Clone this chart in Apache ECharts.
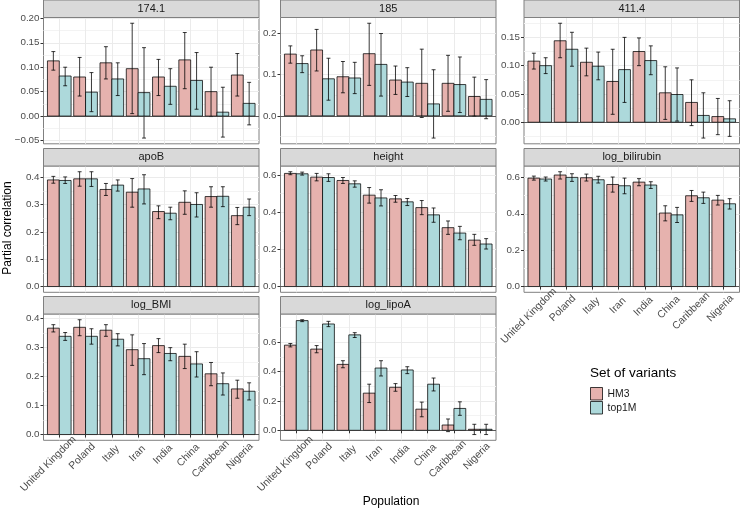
<!DOCTYPE html>
<html><head><meta charset="utf-8">
<script src="https://cdn.jsdelivr.net/npm/echarts@6/dist/echarts.min.js"></script>
<style>html,body{margin:0;padding:0;background:#fff}#c{width:740px;height:510px}</style>
</head><body><div id="c"></div>
<script>
// ---------------- DATA ----------------
const populations = ['United Kingdom','Poland','Italy','Iran','India','China','Caribbean','Nigeria'];
const panelNames = ['174.1','185','411.4','apoB','height','log_bilirubin','log_BMI','log_lipoA'];
const groups = ['HM3','top1M'];
// each entry: [estimate, lower, upper] per population
const p174_HM3   = [[0.113,0.094,0.132],[0.080,0.041,0.120],[0.109,0.076,0.142],[0.097,0.005,0.190],[0.080,0.042,0.116],[0.115,0.056,0.171],[0.050,-0.001,0.100],[0.084,0.041,0.128]];
const p174_top1M = [[0.082,0.062,0.100],[0.049,0.009,0.089],[0.076,0.042,0.109],[0.048,-0.045,0.140],[0.061,0.024,0.097],[0.073,0.014,0.130],[0.008,-0.043,0.059],[0.026,-0.018,0.069]];
const p185_HM3   = [[0.150,0.128,0.170],[0.160,0.109,0.210],[0.095,0.056,0.132],[0.151,0.074,0.225],[0.087,0.052,0.121],[0.079,-0.004,0.162],[0.079,0.011,0.147],[0.047,-0.001,0.094]];
const p185_top1M = [[0.127,0.105,0.146],[0.090,0.038,0.140],[0.092,0.054,0.130],[0.125,0.048,0.200],[0.082,0.047,0.117],[0.029,-0.054,0.112],[0.076,0.008,0.143],[0.040,-0.007,0.088]];
const p411_HM3   = [[0.108,0.094,0.122],[0.144,0.114,0.175],[0.106,0.082,0.131],[0.072,0.014,0.129],[0.125,0.100,0.149],[0.052,0.005,0.098],[0.035,-0.006,0.075],[0.010,-0.022,0.042]];
const p411_top1M = [[0.100,0.086,0.114],[0.129,0.099,0.159],[0.099,0.075,0.124],[0.093,0.035,0.150],[0.109,0.084,0.135],[0.049,0.002,0.096],[0.012,-0.028,0.052],[0.006,-0.025,0.038]];
const apoB_HM3   = [[0.391,0.379,0.404],[0.395,0.368,0.421],[0.356,0.334,0.378],[0.346,0.291,0.396],[0.275,0.249,0.296],[0.309,0.265,0.351],[0.330,0.291,0.366],[0.260,0.227,0.290]];
const apoB_top1M = [[0.389,0.378,0.402],[0.395,0.367,0.421],[0.372,0.350,0.391],[0.358,0.303,0.410],[0.269,0.245,0.291],[0.301,0.255,0.344],[0.331,0.293,0.366],[0.291,0.260,0.321]];
const height_HM3   = [[0.609,0.602,0.618],[0.589,0.569,0.609],[0.571,0.555,0.587],[0.492,0.449,0.533],[0.472,0.454,0.490],[0.425,0.387,0.463],[0.317,0.281,0.353],[0.250,0.222,0.281]];
const height_top1M = [[0.607,0.600,0.616],[0.587,0.566,0.607],[0.553,0.535,0.569],[0.477,0.434,0.521],[0.456,0.436,0.474],[0.386,0.346,0.423],[0.288,0.252,0.324],[0.229,0.202,0.258]];
const bili_HM3   = [[0.596,0.585,0.607],[0.613,0.591,0.631],[0.598,0.580,0.618],[0.561,0.519,0.602],[0.574,0.554,0.593],[0.404,0.361,0.444],[0.499,0.468,0.528],[0.475,0.448,0.501]];
const bili_top1M = [[0.591,0.580,0.602],[0.600,0.578,0.620],[0.587,0.569,0.606],[0.554,0.510,0.596],[0.558,0.539,0.576],[0.394,0.352,0.435],[0.488,0.457,0.519],[0.455,0.426,0.483]];
const bmi_HM3   = [[0.366,0.353,0.378],[0.369,0.340,0.395],[0.359,0.338,0.378],[0.292,0.238,0.343],[0.306,0.282,0.330],[0.269,0.227,0.311],[0.209,0.168,0.248],[0.157,0.125,0.187]];
const bmi_top1M = [[0.338,0.324,0.351],[0.338,0.311,0.364],[0.328,0.305,0.347],[0.261,0.206,0.313],[0.279,0.254,0.299],[0.243,0.198,0.285],[0.175,0.136,0.212],[0.149,0.119,0.178]];
const lipoA_HM3   = [[0.580,0.568,0.591],[0.553,0.528,0.577],[0.449,0.426,0.474],[0.253,0.189,0.314],[0.293,0.266,0.318],[0.144,0.092,0.192],[0.036,-0.009,0.077],[0.007,-0.029,0.041]];
const lipoA_top1M = [[0.747,0.740,0.753],[0.724,0.706,0.742],[0.650,0.632,0.665],[0.424,0.370,0.474],[0.411,0.386,0.433],[0.314,0.268,0.356],[0.149,0.102,0.194],[0.007,-0.029,0.041]];
// y tick labels per panel
const ticks174 = [-0.05, 0.00, 0.05, 0.10, 0.15, 0.20];
const ticks185 = [0.0, 0.1, 0.2];
const ticks411 = [0.00, 0.05, 0.10, 0.15];
const ticksApoB = [0.0, 0.1, 0.2, 0.3, 0.4];
const ticksHeight = [0.0, 0.2, 0.4, 0.6];
const ticksBili = [0.0, 0.2, 0.4, 0.6];
const ticksBmi = [0.0, 0.1, 0.2, 0.3, 0.4];
const ticksLipoA = [0.0, 0.2, 0.4, 0.6];
const tickDecimals = [2, 1, 2, 1, 1, 1, 1, 1];

// ---------------- BUILD ----------------
const seriesData = [[p174_HM3,p174_top1M],[p185_HM3,p185_top1M],[p411_HM3,p411_top1M],[apoB_HM3,apoB_top1M],
  [height_HM3,height_top1M],[bili_HM3,bili_top1M],[bmi_HM3,bmi_top1M],[lipoA_HM3,lipoA_top1M]];
const panelTicks = [ticks174,ticks185,ticks411,ticksApoB,ticksHeight,ticksBili,ticksBmi,ticksLipoA];

const FONT = '"Liberation Sans", Arial, Helvetica, sans-serif';
const fills = ['#E6B2AE', '#ADD9DB'];
const outline = 'rgba(0,0,0,0.75)';
const colLeft = [43.5, 280.5, 524];
const W = 215.5;
const rowTop = [17.5, 166, 314];
const H = 126.3;
const stripH = 17.5;
const XFS = 10.4;
const ANG = Math.PI / 4;
const xPos = populations.map((p, i) => i + 1);
const showXLabels = [false,false,false,false,false,true,true,true];

function renderFor(off, fill) {
  return function (params, api) {
    const x = api.value(0) + off, v = api.value(1), lo = api.value(2), hi = api.value(3);
    const a = api.coord([x - 0.225, v]);
    const b = api.coord([x + 0.225, 0]);
    const pl = api.coord([x, lo]), ph = api.coord([x, hi]);
    const cl = api.coord([x - 0.075, 0])[0], cr = api.coord([x + 0.075, 0])[0];
    const ls = { stroke: 'rgba(0,0,0,0.78)', lineWidth: 1 };
    return { type: 'group', children: [
      { type: 'rect', shape: { x: a[0], y: Math.min(a[1], b[1]), width: b[0] - a[0], height: Math.abs(b[1] - a[1]) },
        style: { fill: fill, stroke: outline, lineWidth: 1 } },
      { type: 'line', shape: { x1: pl[0], y1: pl[1], x2: ph[0], y2: ph[1] }, style: ls },
      { type: 'line', shape: { x1: cl, y1: pl[1], x2: cr, y2: pl[1] }, style: ls },
      { type: 'line', shape: { x1: cl, y1: ph[1], x2: cr, y2: ph[1] }, style: ls }
    ]};
  };
}

const grids = [], xAxes = [], yAxes = [], series = [], graphics = [];
panelNames.forEach((name, i) => {
  const r = Math.floor(i / 3), c = i % 3;
  const left = colLeft[c], top = rowTop[r];
  grids.push({ left: left, top: top, width: W, height: H, show: true, borderColor: '#808080', borderWidth: 1, backgroundColor: '#fff' });
  let lo = 0, hi = 0;
  seriesData[i].forEach(arr => arr.forEach(d => { lo = Math.min(lo, d[1], d[0]); hi = Math.max(hi, d[2], d[0]); }));
  const span = hi - lo;
  const ymin = lo - 0.05 * span, ymax = hi + 0.05 * span;
  const majors = panelTicks[i];
  const step = majors[1] - majors[0];
  const minors = [];
  for (let k = -1; k < majors.length; k++) {
    const m = +(majors[0] + (k + 0.5) * step).toFixed(4);
    if (m > ymin && m < ymax) minors.push(m);
  }
  const show = showXLabels[i];
  xAxes.push({ type: 'value', gridIndex: i, min: 0.4, max: 8.6,
    axisLine: { show: false },
    splitLine: { show: true, lineStyle: { color: '#EBEBEB', width: 1 } },
    axisTick: { show: show, length: 3, lineStyle: { color: '#333' }, customValues: xPos },
    axisLabel: { show: false, customValues: xPos }
  });
  yAxes.push({ type: 'value', gridIndex: i, min: ymin, max: ymax, position: 'left',
    axisLine: { show: false }, axisLabel: { show: false },
    axisTick: { show: false, customValues: minors },
    splitLine: { show: true, lineStyle: { color: '#F3F3F3', width: 1 } }
  });
  yAxes.push({ type: 'value', gridIndex: i, min: ymin, max: ymax, position: 'left',
    axisLine: { show: false },
    axisTick: { show: true, length: 3, lineStyle: { color: '#333' }, customValues: majors },
    axisLabel: { show: true, customValues: majors, formatter: v => v.toFixed(tickDecimals[i]).replace('-', '\u2212'), margin: 4,
      fontSize: 9.8, color: '#4D4D4D', fontFamily: FONT },
    splitLine: { show: true, lineStyle: { color: '#EBEBEB', width: 1 } }
  });
  groups.forEach((g, gi) => {
    const s = {
      type: 'custom', name: g, xAxisIndex: i, yAxisIndex: 2 * i + 1,
      itemStyle: { color: fills[gi] },
      renderItem: renderFor(gi === 0 ? -0.225 : 0.225, fills[gi]),
      data: seriesData[i][gi].map((d, k) => [xPos[k], d[0], d[1], d[2]]),
      encode: { x: 0, y: [1, 2, 3] },
      silent: true, animation: false, z: 3
    };
    if (gi === 1) {
      s.markLine = { silent: true, symbol: ['none', 'none'], label: { show: false }, animation: false,
        lineStyle: { color: '#333', width: 0.8, type: 'solid' }, data: [{ yAxis: 0 }] };
    }
    series.push(s);
  });
  graphics.push({ type: 'rect', shape: { x: left, y: top - stripH, width: W, height: stripH },
    style: { fill: '#D9D9D9', stroke: '#808080', lineWidth: 1 }, silent: true });
  graphics.push({ type: 'text', x: left + W / 2, y: top - stripH / 2,
    style: { text: name, fill: '#1A1A1A', font: '11px ' + FONT, textAlign: 'center', textVerticalAlign: 'middle' }, silent: true });
});

graphics.push({ type: 'text', x: 7.5, y: 228, rotation: Math.PI / 2,
  style: { text: 'Partial correlation', fill: '#000', font: '12px ' + FONT, textAlign: 'center', textVerticalAlign: 'middle' } });
graphics.push({ type: 'text', x: 391, y: 502,
  style: { text: 'Population', fill: '#000', font: '12px ' + FONT, textAlign: 'center', textVerticalAlign: 'middle' } });
graphics.push({ type: 'text', x: 590, y: 373,
  style: { text: 'Set of variants', fill: '#000', font: '13.5px ' + FONT, textAlign: 'left', textVerticalAlign: 'middle' } });

const chart = echarts.init(document.getElementById('c'), null, { renderer: 'canvas' });
chart.setOption({
  animation: false,
  backgroundColor: '#fff',
  grid: grids, xAxis: xAxes, yAxis: yAxes, series: series,
  legend: { data: groups, left: 590, top: 387, orient: 'vertical', icon: 'rect', itemWidth: 12, itemHeight: 12.5,
    itemGap: 0.5, padding: 0, selectedMode: false,
    itemStyle: { borderColor: outline, borderWidth: 1 },
    textStyle: { fontSize: 10.4, color: '#1A1A1A', fontFamily: FONT } }
});

// rotated x tick labels, positioned through the x scales
const mctx = document.createElement('canvas').getContext('2d');
mctx.font = XFS + 'px ' + FONT;
panelNames.forEach((name, i) => {
  if (!showXLabels[i]) return;
  const r = Math.floor(i / 3);
  const yb = rowTop[r] + H;
  populations.forEach((p, k) => {
    const px = chart.convertToPixel({ xAxisIndex: i, yAxisIndex: 2 * i + 1 }, [xPos[k], 0])[0];
    const L = mctx.measureText(p).width;
    const s = 0.24 * L;
    graphics.push({ type: 'text', x: px + 2.6 + s * Math.cos(ANG), y: yb + 10 - s * Math.sin(ANG), rotation: ANG, silent: true,
      style: { text: p, fill: '#4D4D4D', font: XFS + 'px ' + FONT, textAlign: 'right', textVerticalAlign: 'middle' } });
  });
});
chart.setOption({ graphic: graphics });
</script></body></html>
